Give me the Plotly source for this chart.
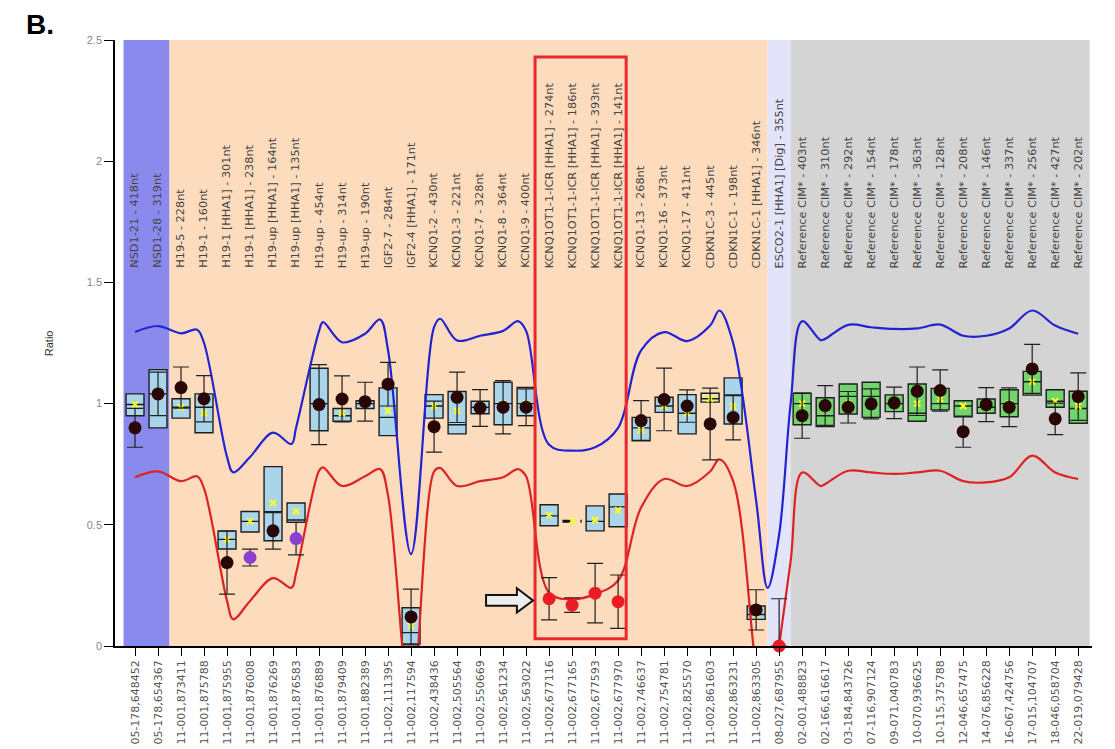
import plotly.graph_objects as go

# ---------------- data ----------------
bottom_labels = [
    "05-178,648452", "05-178,654367", "11-001,873411", "11-001,875788", "11-001,875955",
    "11-001,876008", "11-001,876269", "11-001,876583", "11-001,876889", "11-001,879409",
    "11-001,882389", "11-002,111395", "11-002,117594", "11-002,438436", "11-002,505564",
    "11-002,550669", "11-002,561234", "11-002,563022", "11-002,677116", "11-002,677165",
    "11-002,677593", "11-002,677970", "11-002,746637", "11-002,754781", "11-002,825570",
    "11-002,861603", "11-002,863231", "11-002,863305", "08-027,687955", "02-001,488823",
    "02-166,616617", "03-184,843726", "07-116,907124", "09-071,040783", "10-070,936625",
    "10-115,375788", "12-046,657475", "14-076,856228", "16-067,424756", "17-015,104707",
    "18-046,058704", "22-019,079428",
]
top_labels = [
    "NSD1-21 - 418nt", "NSD1-28 - 319nt", "H19-5 - 228nt", "H19-1 - 160nt",
    "H19-1 [HHA1] - 301nt", "H19-1 [HHA1] - 238nt", "H19-up [HHA1] - 164nt",
    "H19-up [HHA1] - 135nt", "H19-up - 454nt", "H19-up - 314nt", "H19-up - 190nt",
    "IGF2-7 - 284nt", "IGF2-4 [HHA1] - 171nt", "KCNQ1-2 - 430nt", "KCNQ1-3 - 221nt",
    "KCNQ1-7 - 328nt", "KCNQ1-8 - 364nt", "KCNQ1-9 - 400nt",
    "KCNQ1OT1-1-ICR [HHA1] - 274nt", "KCNQ1OT1-1-ICR [HHA1] - 186nt",
    "KCNQ1OT1-1-ICR [HHA1] - 393nt", "KCNQ1OT1-1-ICR [HHA1] - 141nt",
    "KCNQ1-13 - 268nt", "KCNQ1-16 - 373nt", "KCNQ1-17 - 411nt", "CDKN1C-3 - 445nt",
    "CDKN1C-1 - 198nt", "CDKN1C-1 [HHA1] - 346nt", "ESCO2-1 [HHA1] [Dig] - 355nt",
    "Reference CIM* - 403nt", "Reference CIM* - 310nt", "Reference CIM* - 292nt",
    "Reference CIM* - 154nt", "Reference CIM* - 178nt", "Reference CIM* - 363nt",
    "Reference CIM* - 128nt", "Reference CIM* - 208nt", "Reference CIM* - 146nt",
    "Reference CIM* - 337nt", "Reference CIM* - 256nt", "Reference CIM* - 427nt",
    "Reference CIM* - 202nt",
]

# sample ratio (dot) and its error half-width
dot_vals = [0.90, 1.04, 1.066, 1.02, 0.344, 0.365, 0.475, 0.443, 0.996, 1.019,
            1.008, 1.08, 0.12, 0.905, 1.026, 0.982, 0.985, 0.985, 0.195, 0.169,
            0.218, 0.183, 0.93, 1.017, 0.99, 0.916, 0.943, 0.149, 0.0, 0.95,
            0.992, 0.985, 0.999, 1.003, 1.051, 1.054, 0.884, 0.996, 0.985, 1.143,
            0.937, 1.029]
dot_err_plus = [0.08, 0.09, 0.085, 0.095, 0.13, 0.035, 0.075, 0.067, 0.165, 0.095,
                0.08, 0.09, 0.115, 0.105, 0.104, 0.076, 0.11, 0.076, 0.087, 0.03,
                0.123, 0.11, 0.082, 0.129, 0.067, 0.148, 0.093, 0.083, 0.195, 0.093,
                0.082, 0.065, 0.062, 0.065, 0.1, 0.085, 0.064, 0.07, 0.08, 0.101,
                0.065, 0.098]
dot_err_minus = [0.08, 0.09, 0.085, 0.095, 0.13, 0.035, 0.075, 0.067, 0.165, 0.095,
                 0.08, 0.09, 0.115, 0.105, 0.104, 0.076, 0.11, 0.076, 0.087, 0.03,
                 0.123, 0.11, 0.082, 0.129, 0.067, 0.148, 0.093, 0.083, 0.0, 0.093,
                 0.082, 0.065, 0.062, 0.065, 0.1, 0.085, 0.064, 0.07, 0.08, 0.101,
                 0.065, 0.098]
dot_group = (["d"] * 5 + ["p", "d", "p"] + ["d"] * 10 + ["r"] * 4 + ["d"] * 6 + ["r"]
             + ["d"] * 13)

# reference boxes (None = no box)
box_q1 = [0.95, 0.90, 0.94, 0.88, 0.40, 0.47, 0.434, 0.51, 0.888, 0.927,
          0.98, 0.868, 0.008, 0.94, 0.875, 0.958, 0.913, 0.95, 0.496, None,
          0.475, 0.492, 0.847, 0.964, 0.875, 1.006, 0.916, 0.11, None, 0.913,
          0.905, 0.957, 0.943, 0.967, 0.927, 0.974, 0.946, 0.96, 0.946, 1.035,
          0.985, 0.919]
box_med = [0.996, 1.04, 0.985, 0.985, 0.44, 0.514, 0.554, 0.52, 1.0, 0.95,
           1.0, 0.943, 0.055, 0.99, 0.913, 0.985, 1.0, 1.0, 0.537, None,
           0.514, 0.574, 0.90, 0.99, 0.96, 1.02, 1.033, 0.13, None, 1.0,
           0.95, 1.03, 1.03, 1.0, 0.96, 1.0, 0.99, 0.985, 1.0, 1.09,
           1.01, 0.98]
box_q3 = [1.04, 1.14, 1.02, 1.04, 0.475, 0.555, 0.74, 0.59, 1.146, 0.98,
          1.012, 1.065, 0.158, 1.037, 1.05, 1.01, 1.088, 1.067, 0.583, None,
          0.578, 0.627, 0.943, 1.026, 1.037, 1.043, 1.106, 0.165, None, 1.043,
          1.024, 1.081, 1.088, 1.036, 1.081, 1.063, 1.012, 1.019, 1.057, 1.133,
          1.057, 1.051]
box_mean = [0.996, 1.04, 0.985, 0.96, 0.44, 0.514, 0.59, 0.555, 1.0, 0.96,
            1.0, 0.97, 0.083, 0.99, 0.97, 0.985, 1.0, 1.0, 0.54, 0.515,
            0.52, 0.56, 0.89, 0.99, 0.96, 1.02, 0.99, 0.13, None, 1.0,
            0.98, 1.0, 1.0, 1.0, 1.0, 1.02, 0.99, 0.99, 1.0, 1.09,
            1.01, 0.99]
box_kind = (["blue"] * 25 + ["yellow"] + ["blue"] * 2 + ["none"] + ["green"] * 13)
flat_box_idx = 19
flat_box_val = 0.515

# threshold curves (position, value)
curve_pos = [0, 1, 2, 2.7, 3, 4, 4.27, 5, 6, 6.8, 7, 8, 8.17, 9, 10, 10.65, 11, 12,
             13, 13.26, 14, 15, 16, 16.65, 17, 18, 19, 20, 21, 22, 23, 24, 25, 25.4,
             26, 27, 27.5, 28, 28.5, 29, 29.8, 30, 31, 32, 33, 34, 35, 36, 37, 38,
             39, 40, 41]
upper_curve = [1.295, 1.32, 1.29, 1.305, 1.25, 0.78, 0.716, 0.78, 0.88, 0.833, 0.90,
               1.30, 1.336, 1.253, 1.288, 1.347, 1.22, 0.379, 1.315, 1.35, 1.26,
               1.28, 1.30, 1.34, 1.30, 0.83, 0.806, 0.82, 0.90, 1.22, 1.295, 1.258,
               1.322, 1.384, 1.25, 0.60, 0.24, 0.46, 1.0, 1.34, 1.262, 1.267, 1.325,
               1.315, 1.308, 1.31, 1.326, 1.28, 1.28, 1.31, 1.384, 1.322, 1.288]
lower_curve = [0.696, 0.72, 0.68, 0.70, 0.65, 0.186, 0.11, 0.186, 0.28, 0.24, 0.30,
               0.723, 0.737, 0.66, 0.70, 0.73, 0.62, -0.25, 0.72, 0.735, 0.66,
               0.68, 0.696, 0.73, 0.70, 0.22, 0.193, 0.214, 0.27, 0.571, 0.689, 0.66,
               0.72, 0.77, 0.68, -0.1, -0.4, 0.0, 0.35, 0.716, 0.66, 0.668, 0.723,
               0.716, 0.71, 0.716, 0.723, 0.68, 0.675, 0.696, 0.785, 0.716, 0.689]

# background groups: edges (in category positions) and colours
band_edges = [-0.5, 1.5, 27.5, 28.5, 41.5]
band_colors = ["#8a8aee", "#fcdcbd", "#e3e3f9", "#d4d4d4"]
highlight_x = [17.39, 21.35]
highlight_y = [0.03, 2.43]
arrow_x = [15.26, 17.3]
arrow_y = 0.188

y_ticks = [0, 0.5, 1, 1.5, 2, 2.5]
y_ticktext = ["0", "0.5", "1", "1.5", "2", "2.5"]

# ---------------- figure ----------------
positions = list(range(len(bottom_labels)))
fig = go.Figure()

fills = {"blue": "#a9d4ea", "green": "#72d46c", "yellow": "#e4e9a6"}
for i in positions:
    if box_kind[i] == "none" or box_q1[i] is None:
        continue
    fig.add_trace(go.Box(
        x=[i], q1=[box_q1[i]], median=[box_med[i]], q3=[box_q3[i]],
        lowerfence=[box_q1[i]], upperfence=[box_q3[i]],
        width=0.78, whiskerwidth=0, fillcolor=fills[box_kind[i]],
        line=dict(color="#1e1e1e", width=1.4), boxpoints=False,
        showlegend=False, hoverinfo="skip"))

# flat (zero-height) box drawn as a dashed bar
fig.add_trace(go.Scatter(
    x=[flat_box_idx - 0.42, flat_box_idx + 0.42], y=[flat_box_val, flat_box_val],
    mode="lines", line=dict(color="#111111", width=3, dash="dash"),
    showlegend=False, hoverinfo="skip"))

# yellow mean markers
mi = [i for i in positions if box_mean[i] is not None]
fig.add_trace(go.Scatter(
    x=mi, y=[box_mean[i] for i in mi], mode="markers",
    marker=dict(symbol="x-thin-open", size=6, color="#ffff20",
                line=dict(color="#ffff20", width=2)),
    showlegend=False, hoverinfo="skip"))

# threshold curves
fig.add_trace(go.Scatter(x=curve_pos, y=upper_curve, mode="lines",
                         line=dict(color="#2323d2", width=2.2, shape="spline", smoothing=1.0),
                         showlegend=False, hoverinfo="skip"))
fig.add_trace(go.Scatter(x=curve_pos, y=lower_curve, mode="lines",
                         line=dict(color="#dd2222", width=2.2, shape="spline", smoothing=1.0),
                         showlegend=False, hoverinfo="skip"))

# sample dots with error bars
dot_colors = {"d": "#2a0707", "p": "#8b3fd0", "r": "#ec1c24"}
for g, col in dot_colors.items():
    idx = [i for i in positions if dot_group[i] == g]
    fig.add_trace(go.Scatter(
        x=idx, y=[dot_vals[i] for i in idx], mode="markers",
        marker=dict(color=col, size=13, line=dict(width=0)),
        error_y=dict(type="data", symmetric=False,
                     array=[dot_err_plus[i] for i in idx],
                     arrayminus=[dot_err_minus[i] for i in idx],
                     color="#202020", thickness=1.2, width=8),
        cliponaxis=False, showlegend=False, hoverinfo="skip"))

# background bands
shapes = []
for k, col in enumerate(band_colors):
    shapes.append(dict(type="rect", xref="x", yref="y",
                       x0=band_edges[k], x1=band_edges[k + 1], y0=0, y1=2.5,
                       fillcolor=col, line=dict(width=0), layer="below"))
# highlight rectangle
shapes.append(dict(type="rect", xref="x", yref="y",
                   x0=highlight_x[0], x1=highlight_x[1],
                   y0=highlight_y[0], y1=highlight_y[1],
                   line=dict(color="#e8282c", width=3), fillcolor="rgba(0,0,0,0)",
                   layer="above"))
# hollow block arrow
ax0, ax1 = arrow_x
hb = ax1 - 0.7
sh, hh = 0.022, 0.05
path = (f"M {ax0},{arrow_y - sh} L {hb},{arrow_y - sh} L {hb},{arrow_y - hh} "
        f"L {ax1},{arrow_y} L {hb},{arrow_y + hh} L {hb},{arrow_y + sh} "
        f"L {ax0},{arrow_y + sh} Z")
shapes.append(dict(type="path", xref="x", yref="y", path=path,
                   fillcolor="#eeeeee", line=dict(color="#111111", width=2),
                   layer="above"))

annotations = []
for i, lab in enumerate(top_labels):
    annotations.append(dict(x=i, y=1.55, xref="x", yref="y", text=lab,
                            textangle=-90, showarrow=False, xanchor="center",
                            yanchor="bottom",
                            font=dict(family="DejaVu Sans", size=11.3, color="#454545")))
annotations.append(dict(x=-0.075, y=1.248, xref="paper", yref="y", text="Ratio",
                        textangle=-90, showarrow=False,
                        font=dict(family="Liberation Sans", size=11, color="#333333")))
annotations.append(dict(x=-0.093, y=1.055, xref="paper", yref="paper", text="<b>B.</b>",
                        xanchor="left", yanchor="top", showarrow=False,
                        font=dict(family="Liberation Sans", size=28, color="#000000")))

# the page body has an 8px margin, so the figure is sized to fit the window
fig.update_layout(
    width=1107, height=741, autosize=False,
    margin=dict(l=107, r=23, t=32, b=103),
    paper_bgcolor="white", plot_bgcolor="white",
    boxmode="overlay", showlegend=False,
    shapes=shapes, annotations=annotations,
    xaxis=dict(range=[-0.87, 41.6], tickmode="array", tickvals=positions,
               ticktext=bottom_labels, tickangle=-90, ticks="outside", ticklen=8,
               tickcolor="#000000", showline=True, linecolor="#000000", linewidth=1.5,
               showgrid=False, zeroline=False, automargin=False,
               tickfont=dict(family="DejaVu Sans", size=11, color="#555555")),
    yaxis=dict(range=[0, 2.5], tickmode="array", tickvals=y_ticks, ticktext=y_ticktext,
               ticks="outside", ticklen=9, tickcolor="#000000", showline=True,
               linecolor="#000000", linewidth=1.5, showgrid=False, zeroline=False,
               automargin=False,
               tickfont=dict(family="Liberation Sans", size=11, color="#888888")),
)

fig.write_html("out.html")
